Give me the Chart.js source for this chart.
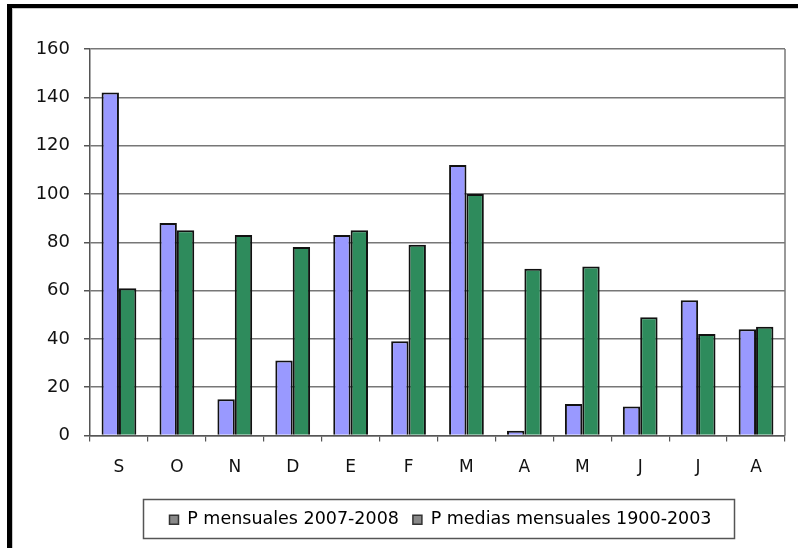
<!DOCTYPE html>
<html lang="es">
<head>
    <meta charset="UTF-8">
    <title>Precipitaciones mensuales</title>
    <script src="https://cdn.jsdelivr.net/npm/chart.js"></script>
    <style>
        html, body { margin: 0; padding: 0; background: #fff; }
        #wrap { width: 798px; height: 548px; }
    </style>
</head>
<body>
    <div id="wrap"><canvas id="chartRain" width="798" height="548"></canvas></div>
</body>
</html>
<script>
    const months = ['S', 'O', 'N', 'D', 'E', 'F', 'M', 'A', 'M', 'J', 'J', 'A'];
    const rain0708 = [142, 88, 15, 31, 83, 39, 112, 2, 13, 12, 56, 44];
    const rainMedia = [61, 85, 83, 78, 85, 79, 100, 69, 70, 49, 42, 45];
    const seriesNames = ['P mensuales 2007-2008', 'P medias mensuales 1900-2003'];
    const yTicks = [0, 20, 40, 60, 80, 100, 120, 140, 160];

    // marco negro, borde derecho del area y caja de la leyenda
    const framePlugin = {
        id: 'frame',
        beforeDraw(chart) {
            const ctx = chart.ctx;
            ctx.save();
            ctx.fillStyle = '#fff';
            ctx.fillRect(0, 0, chart.width, chart.height);
            ctx.fillStyle = '#000';
            ctx.fillRect(7, 4, 5, chart.height - 4);
            ctx.fillRect(7, 4, chart.width - 7, 4);
            ctx.fillStyle = '#c8c8c8';
            ctx.fillRect(12, 8, 1, chart.height - 8);
            ctx.fillRect(12, 8, chart.width - 12, 1);
            ctx.restore();
        },
        afterLayout(chart) {
            const lg = chart.legend;
            lg.left = 143; lg.right = 738;
            lg.width = lg.right - lg.left;
            lg.top = 497; lg.bottom = 538;
            lg.height = lg.bottom - lg.top;
        },
        afterDraw(chart) {
            const ctx = chart.ctx;
            const a = chart.chartArea;
            ctx.save();
            ctx.strokeStyle = '#777';
            ctx.lineWidth = 1.5;
            ctx.beginPath();
            ctx.moveTo(a.right, a.top);
            ctx.lineTo(a.right, a.bottom);
            ctx.stroke();
            ctx.strokeStyle = '#555';
            ctx.lineWidth = 1.5;
            ctx.strokeRect(143.5, 499.5, 591, 39);
            ctx.restore();
        }
    };

    new Chart(document.getElementById('chartRain'), {
        type: 'bar',
        data: {
            labels: months,
            datasets: [
                {
                    label: seriesNames[0],
                    data: rain0708,
                    backgroundColor: '#9999ff',
                    borderColor: '#111',
                    borderWidth: 2
                },
                {
                    label: seriesNames[1],
                    data: rainMedia,
                    backgroundColor: '#2e8b5c',
                    borderColor: '#111',
                    borderWidth: 2
                }
            ]
        },
        options: {
            responsive: false,
            animation: false,
            events: [],
            layout: { padding: { top: 49, right: 13, bottom: 7, left: 0 } },
            datasets: { bar: { categoryPercentage: 0.6, barPercentage: 1.0 } },
            scales: {
                x: {
                    grid: {
                        offset: true,
                        drawOnChartArea: false,
                        drawTicks: true,
                        tickLength: 6,
                        color: '#555',
                        lineWidth: 1.2
                    },
                    border: { color: '#555', width: 1.5 },
                    ticks: {
                        color: '#111',
                        font: { family: 'DejaVu Sans', size: 17 },
                        padding: 16,
                        maxRotation: 0
                    },
                    afterFit(scale) { scale.height = 64; }
                },
                y: {
                    min: 0,
                    max: 160,
                    afterBuildTicks(scale) { scale.ticks = yTicks.map(v => ({ value: v })); },
                    grid: {
                        color: '#777',
                        lineWidth: 1.5,
                        tickLength: 6,
                        tickColor: '#555'
                    },
                    border: { color: '#555', width: 1.5 },
                    ticks: {
                        color: '#111',
                        font: { family: 'DejaVu Sans', size: 18 },
                        padding: 14
                    },
                    afterFit(scale) { scale.width = 90; }
                }
            },
            plugins: {
                tooltip: { enabled: false },
                legend: {
                    position: 'bottom',
                    labels: {
                        color: '#111',
                        font: { family: 'DejaVu Sans', size: 17.5 },
                        boxWidth: 9,
                        boxHeight: 9,
                        padding: 14,
                        generateLabels(chart) {
                            return seriesNames.map((name, i) => ({
                                text: name,
                                fillStyle: '#888',
                                strokeStyle: '#333',
                                lineWidth: 1.5,
                                datasetIndex: i
                            }));
                        }
                    }
                }
            }
        },
        plugins: [framePlugin]
    });
</script>
